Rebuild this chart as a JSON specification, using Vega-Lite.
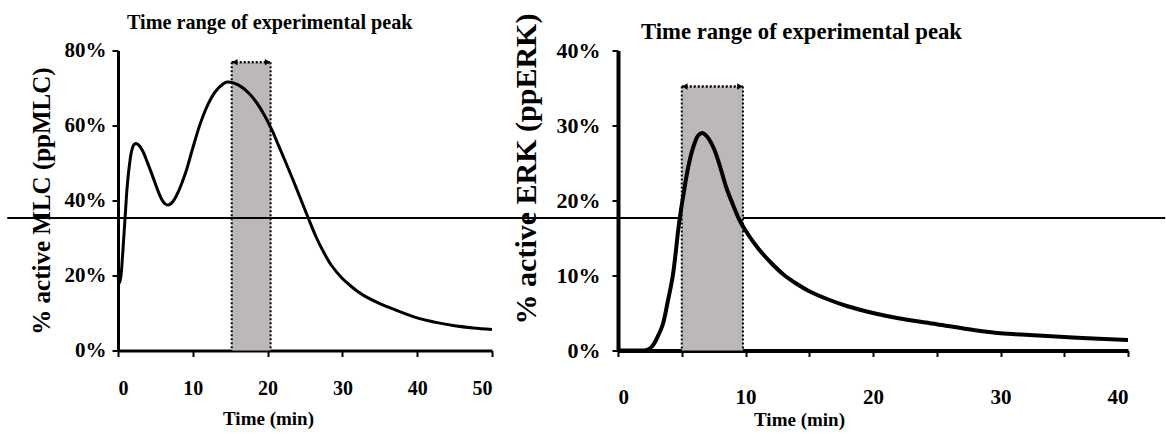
{
  "$schema": "https://vega.github.io/schema/vega-lite/v6.json",
  "padding": {"left": 6, "top": 12.5, "right": 0, "bottom": 0},
  "background": "white",
  "bounds": "flush",
  "spacing": 126,
  "config": {
    "font": "Liberation Serif",
    "view": {"stroke": null},
    "axis": {"labelColor": "black", "titleColor": "black", "labelFontWeight": "bold", "titleFontWeight": "bold", "domainColor": "black", "tickColor": "black", "grid": false, "labelFont": "Liberation Serif", "titleFont": "Liberation Serif"},
    "title": {"font": "Liberation Serif", "fontWeight": "bold", "color": "black"}
  },
  "datasets": {
    "mlc": [
      {"t": 0, "v": 0.195}, {"t": 0.2, "v": 0.18}, {"t": 0.4, "v": 0.2}, {"t": 0.6, "v": 0.25}, {"t": 0.8, "v": 0.31}, {"t": 1.0, "v": 0.37}, {"t": 1.2, "v": 0.43}, {"t": 1.5, "v": 0.49}, {"t": 1.8, "v": 0.53}, {"t": 2.1, "v": 0.548}, {"t": 2.4, "v": 0.552}, {"t": 2.9, "v": 0.545}, {"t": 3.4, "v": 0.528}, {"t": 3.9, "v": 0.503}, {"t": 4.4, "v": 0.477}, {"t": 4.9, "v": 0.45}, {"t": 5.4, "v": 0.423}, {"t": 5.9, "v": 0.401}, {"t": 6.3, "v": 0.391}, {"t": 6.7, "v": 0.388}, {"t": 7.1, "v": 0.392}, {"t": 7.6, "v": 0.405}, {"t": 8.1, "v": 0.425}, {"t": 8.6, "v": 0.45}, {"t": 9.1, "v": 0.478}, {"t": 10, "v": 0.54}, {"t": 11, "v": 0.605}, {"t": 12, "v": 0.655}, {"t": 13, "v": 0.69}, {"t": 14, "v": 0.71}, {"t": 14.6, "v": 0.716}, {"t": 15.5, "v": 0.713}, {"t": 16.5, "v": 0.703}, {"t": 17.5, "v": 0.686}, {"t": 18.5, "v": 0.662}, {"t": 19.5, "v": 0.63}, {"t": 20.6, "v": 0.587}, {"t": 21.5, "v": 0.545}, {"t": 22.5, "v": 0.498}, {"t": 23.5, "v": 0.45}, {"t": 24.5, "v": 0.4}, {"t": 25.5, "v": 0.35}, {"t": 26.5, "v": 0.302}, {"t": 27.5, "v": 0.262}, {"t": 28.5, "v": 0.228}, {"t": 30, "v": 0.192}, {"t": 31, "v": 0.174}, {"t": 32, "v": 0.158}, {"t": 33, "v": 0.145}, {"t": 35, "v": 0.125}, {"t": 37, "v": 0.109}, {"t": 40, "v": 0.087}, {"t": 42.5, "v": 0.075}, {"t": 45, "v": 0.066}, {"t": 47.5, "v": 0.06}, {"t": 50, "v": 0.056}
    ],
    "erk": [
      {"t": 0, "v": 0}, {"t": 1, "v": 0}, {"t": 2, "v": 0}, {"t": 2.3, "v": 0.001}, {"t": 2.7, "v": 0.006}, {"t": 3.1, "v": 0.018}, {"t": 3.5, "v": 0.034}, {"t": 3.9, "v": 0.065}, {"t": 4.3, "v": 0.1}, {"t": 4.8, "v": 0.171}, {"t": 5.2, "v": 0.215}, {"t": 5.6, "v": 0.252}, {"t": 6, "v": 0.276}, {"t": 6.3, "v": 0.287}, {"t": 6.6, "v": 0.29}, {"t": 7, "v": 0.285}, {"t": 7.5, "v": 0.27}, {"t": 7.9, "v": 0.251}, {"t": 8.5, "v": 0.217}, {"t": 9, "v": 0.195}, {"t": 9.5, "v": 0.175}, {"t": 10, "v": 0.16}, {"t": 11, "v": 0.136}, {"t": 12, "v": 0.117}, {"t": 13, "v": 0.101}, {"t": 14, "v": 0.089}, {"t": 15, "v": 0.079}, {"t": 16.5, "v": 0.068}, {"t": 18, "v": 0.059}, {"t": 20, "v": 0.05}, {"t": 22, "v": 0.043}, {"t": 25, "v": 0.035}, {"t": 28, "v": 0.027}, {"t": 30, "v": 0.023}, {"t": 33, "v": 0.02}, {"t": 36, "v": 0.017}, {"t": 40, "v": 0.014}
    ],
    "bandL": [{"a": 15.2, "b": 20.4, "top": 0.769}],
    "edgesL": [{"e": 15.2, "top": 0.769}, {"e": 20.4, "top": 0.769}],
    "bandR": [{"a": 5.0, "b": 9.8, "top": 0.352}],
    "edgesR": [{"e": 5.0, "top": 0.352}, {"e": 9.8, "top": 0.352}],
    "hline": [{"x1": -14.8, "x2": 140, "y": 0.3535}]
  },
  "hconcat": [
    {
      "width": 374,
      "height": 300,
      "title": {"text": "Time range of experimental peak", "anchor": "start", "frame": "group", "dx": 9, "offset": 6.5, "fontSize": 20.2},
      "layer": [
        {
          "data": {"name": "bandL"},
          "mark": {"type": "rect", "color": "#bcb8b8"},
          "encoding": {
            "x": {"field": "a", "type": "quantitative", "scale": {"domain": [0, 50], "nice": false}, "axis": {"values": [0, 5, 10, 15, 20, 25, 30, 35, 40, 45, 50], "labelExpr": "datum.value % 10 === 0 ? datum.label : ''", "tickSize": 6, "tickWidth": 2, "domainWidth": 3, "labelPadding": 22, "labelFontSize": 20, "title": "Time (min)", "titleFontSize": 19, "titlePadding": 11, "titleX": 150}},
            "x2": {"field": "b"},
            "y": {"field": "top", "type": "quantitative", "scale": {"domain": [0, 0.8], "nice": false}, "axis": {"values": [0, 0.2, 0.4, 0.6, 0.8], "format": ".0%", "tickSize": 6, "tickWidth": 2, "domainWidth": 3, "labelPadding": 6, "labelFontSize": 21, "title": "% active MLC (ppMLC)", "titleFontSize": 25, "titlePadding": 10}},
            "y2": {"datum": 0}
          }
        },
        {
          "data": {"name": "edgesL"},
          "mark": {"type": "rule", "color": "black", "strokeWidth": 2, "strokeDash": [2, 2]},
          "encoding": {"x": {"field": "e", "type": "quantitative"}, "y": {"field": "top", "type": "quantitative"}, "y2": {"datum": 0}}
        },
        {
          "data": {"name": "bandL"},
          "mark": {"type": "rule", "color": "black", "strokeWidth": 2.5, "strokeDash": [2, 2]},
          "encoding": {"x": {"field": "a", "type": "quantitative"}, "x2": {"field": "b"}, "y": {"field": "top", "type": "quantitative"}}
        },
        {
          "data": {"name": "bandL"},
          "mark": {"type": "point", "shape": "triangle-left", "filled": true, "color": "black", "size": 40, "opacity": 1, "xOffset": 3},
          "encoding": {"x": {"field": "a", "type": "quantitative"}, "y": {"field": "top", "type": "quantitative"}}
        },
        {
          "data": {"name": "bandL"},
          "mark": {"type": "point", "shape": "triangle-right", "filled": true, "color": "black", "size": 40, "opacity": 1, "xOffset": -3},
          "encoding": {"x": {"field": "b", "type": "quantitative"}, "y": {"field": "top", "type": "quantitative"}}
        },
        {
          "data": {"name": "mlc"},
          "mark": {"type": "line", "color": "black", "strokeWidth": 3, "interpolate": "catmull-rom"},
          "encoding": {"x": {"field": "t", "type": "quantitative"}, "y": {"field": "v", "type": "quantitative"}}
        },
        {
          "data": {"name": "hline"},
          "mark": {"type": "rule", "color": "black", "strokeWidth": 2, "clip": false},
          "encoding": {"x": {"field": "x1", "type": "quantitative"}, "x2": {"field": "x2"}, "y": {"field": "y", "type": "quantitative"}}
        }
      ]
    },
    {
      "width": 510,
      "height": 300,
      "title": {"text": "Time range of experimental peak", "anchor": "start", "frame": "group", "dx": 23, "offset": -31, "fontSize": 22.7},
      "layer": [
        {
          "data": {"name": "bandR"},
          "mark": {"type": "rect", "color": "#bcb8b8"},
          "encoding": {
            "x": {"field": "a", "type": "quantitative", "scale": {"domain": [0, 40], "nice": false}, "axis": {"values": [0, 5, 10, 15, 20, 25, 30, 35, 40], "labelExpr": "datum.value % 10 === 0 ? datum.label : ''", "tickSize": 6, "tickWidth": 2, "domainWidth": 4, "labelPadding": 30, "labelFontSize": 21, "title": "Time (min)", "titleFontSize": 19, "titlePadding": 3, "titleX": 181}},
            "x2": {"field": "b"},
            "y": {"field": "top", "type": "quantitative", "scale": {"domain": [0, 0.4], "nice": false}, "axis": {"values": [0, 0.1, 0.2, 0.3, 0.4], "format": ".0%", "tickSize": 6, "tickWidth": 2, "domainWidth": 4, "labelPadding": 12, "labelFontSize": 22, "title": "% active ERK (ppERK)", "titleFontSize": 30, "titlePadding": 15, "titleY": 118}},
            "y2": {"datum": 0}
          }
        },
        {
          "data": {"name": "edgesR"},
          "mark": {"type": "rule", "color": "black", "strokeWidth": 2, "strokeDash": [2, 2]},
          "encoding": {"x": {"field": "e", "type": "quantitative"}, "y": {"field": "top", "type": "quantitative"}, "y2": {"datum": 0}}
        },
        {
          "data": {"name": "bandR"},
          "mark": {"type": "rule", "color": "black", "strokeWidth": 2.5, "strokeDash": [2, 2]},
          "encoding": {"x": {"field": "a", "type": "quantitative"}, "x2": {"field": "b"}, "y": {"field": "top", "type": "quantitative"}}
        },
        {
          "data": {"name": "bandR"},
          "mark": {"type": "point", "shape": "triangle-left", "filled": true, "color": "black", "size": 40, "opacity": 1, "xOffset": 3},
          "encoding": {"x": {"field": "a", "type": "quantitative"}, "y": {"field": "top", "type": "quantitative"}}
        },
        {
          "data": {"name": "bandR"},
          "mark": {"type": "point", "shape": "triangle-right", "filled": true, "color": "black", "size": 40, "opacity": 1, "xOffset": -3},
          "encoding": {"x": {"field": "b", "type": "quantitative"}, "y": {"field": "top", "type": "quantitative"}}
        },
        {
          "data": {"name": "erk"},
          "mark": {"type": "line", "color": "black", "strokeWidth": 4, "interpolate": "catmull-rom"},
          "encoding": {"x": {"field": "t", "type": "quantitative"}, "y": {"field": "v", "type": "quantitative"}}
        }
      ]
    }
  ]
}
